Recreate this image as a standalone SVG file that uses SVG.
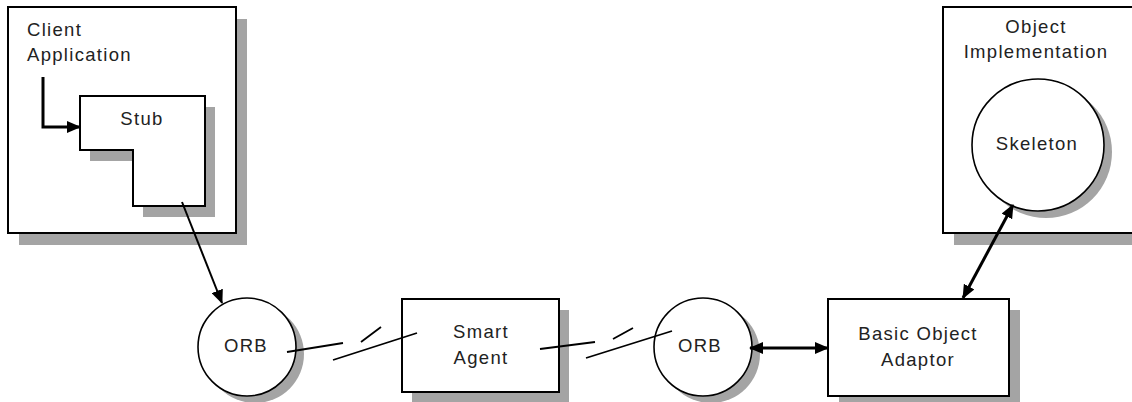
<svg xmlns="http://www.w3.org/2000/svg" width="1132" height="402" viewBox="0 0 1132 402">
<defs>
<style>
.shadow{fill:#a4a4a4;stroke:none}
.box{fill:#fff;stroke:#000;stroke-width:2}
.circ{fill:#fff;stroke:#000;stroke-width:1.6}
.lbl{font-family:"Liberation Sans",Arial,sans-serif;font-size:18.5px;letter-spacing:1.3px;fill:#222}
.mid{text-anchor:middle}
.conn{fill:none;stroke:#000}
</style>
<marker id="ah" markerUnits="userSpaceOnUse" markerWidth="14" markerHeight="12" refX="13" refY="6" orient="auto-start-reverse" viewBox="0 0 14 12">
<path d="M0,0 L14,6 L0,12 z" fill="#000"/>
</marker>
</defs>
<rect width="1132" height="402" fill="#fff"/>

<g id="client-application">
<rect class="shadow" x="19" y="19" width="228" height="226"/>
<rect class="box" x="8" y="7" width="228" height="226"/>
<text class="lbl" x="27" y="36">Client</text>
<text class="lbl" x="27" y="61">Application</text>
</g>

<g id="stub">
<polygon class="shadow" points="90,107 215,107 215,217 143,217 143,161 90,161"/>
<polygon class="box" points="80,96 205,96 205,206 133,206 133,150 80,150"/>
<text class="lbl mid" x="142" y="125">Stub</text>
</g>

<g id="orb-left">
<circle class="shadow" cx="255" cy="354" r="49"/>
<circle class="circ" cx="247" cy="347" r="49"/>
<text class="lbl mid" x="246" y="352">ORB</text>
</g>

<g id="smart-agent">
<rect class="shadow" x="412" y="310" width="157" height="93"/>
<rect class="box" x="402" y="299" width="157" height="93"/>
<text class="lbl mid" x="481" y="338">Smart</text>
<text class="lbl mid" x="481" y="364">Agent</text>
</g>

<g id="orb-right">
<circle class="shadow" cx="711" cy="354" r="49"/>
<circle class="circ" cx="703" cy="347" r="49"/>
<text class="lbl mid" x="700" y="352">ORB</text>
</g>

<g id="basic-object-adaptor">
<rect class="shadow" x="839" y="310" width="181" height="97"/>
<rect class="box" x="828" y="299" width="181" height="97"/>
<text class="lbl mid" x="918" y="340">Basic Object</text>
<text class="lbl mid" x="918" y="366">Adaptor</text>
</g>

<g id="object-implementation">
<rect class="shadow" x="954" y="19" width="200" height="226"/>
<rect class="box" x="943" y="7" width="200" height="226"/>
<text class="lbl mid" x="1036" y="33">Object</text>
<text class="lbl mid" x="1036" y="58">Implementation</text>
</g>

<g id="skeleton">
<circle class="shadow" cx="1046" cy="152" r="66"/>
<circle class="circ" cx="1038" cy="145" r="66"/>
<text class="lbl mid" x="1037" y="150">Skeleton</text>
</g>

<g id="connectors">
<polyline class="conn" stroke-width="3" points="43,77 43,127 80,127" marker-end="url(#ah)"/>
<line class="conn" stroke-width="2" x1="182" y1="202" x2="222" y2="303" marker-end="url(#ah)"/>
<path class="conn" stroke-width="1.8" d="M287,352 L343,343 M361,342 L381,327 M333,360 L417,333"/>
<path class="conn" stroke-width="1.8" d="M540,349 L595,342 M613,339 L633,328 M586,358 L672,331"/>
<line class="conn" stroke-width="3" x1="750" y1="348" x2="828" y2="348" marker-start="url(#ah)" marker-end="url(#ah)"/>
<line class="conn" stroke-width="3" x1="1013" y1="205" x2="963" y2="298" marker-start="url(#ah)" marker-end="url(#ah)"/>
</g>
</svg>
